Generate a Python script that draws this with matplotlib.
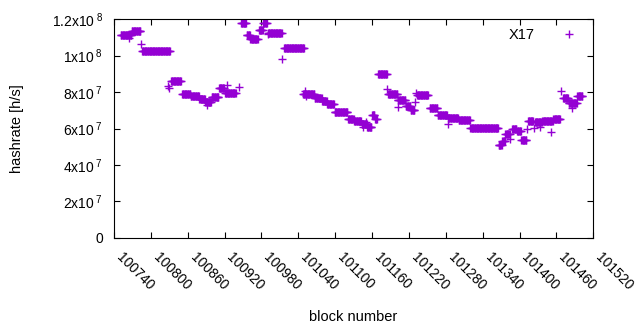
import numpy as np
import matplotlib
matplotlib.use("Agg")
import matplotlib.pyplot as plt
import matplotlib.transforms as mtransforms

plt.rcParams['font.family'] = ['Liberation Sans', 'DejaVu Sans']
plt.rcParams['font.size'] = 10

# runs of equal hashrate: first block, last block, value in 1e6 h/s
blk_from = [100751, 100764, 100769, 100784, 100786, 100828, 100830, 100833, 100851, 100865,
            100879, 100889, 100891, 100899, 100911, 100924, 100921, 100943, 100947, 100956,
            100962, 100976, 100983, 100990, 100991, 101014, 101017, 101048, 101051, 101052,
            101067, 101079, 101087, 101099, 101121, 101131, 101143, 101146, 101150, 101152,
            101160, 101165, 101170, 101184, 101186, 101202, 101202, 101215, 101223, 101230,
            101231, 101233, 101254, 101267, 101283, 101284, 101301, 101320, 101366, 101372,
            101377, 101385, 101388, 101396, 101403, 101412, 101414, 101423, 101425, 101433,
            101437, 101451, 101455, 101468, 101471, 101480, 101486, 101494]
blk_to = [100768, 100764, 100783, 100784, 100831, 100828, 100830, 100849, 100864, 100878,
          100888, 100898, 100891, 100910, 100919, 100924, 100938, 100943, 100955, 100961,
          100974, 100982, 100989, 100990, 101013, 101014, 101049, 101066, 101051, 101052,
          101078, 101086, 101098, 101120, 101130, 101142, 101151, 101146, 101150, 101159,
          101164, 101168, 101184, 101184, 101201, 101214, 101202, 101222, 101229, 101230,
          101231, 101251, 101266, 101282, 101283, 101300, 101319, 101365, 101371, 101376,
          101384, 101385, 101395, 101402, 101411, 101412, 101422, 101423, 101436, 101433,
          101454, 101451, 101466, 101468, 101479, 101493, 101486, 101502]
hashrate = [111.2, 109.6, 113.4, 106.3, 102.7, 83.5, 82.0, 86.2, 79.0, 77.8,
            76.2, 74.5, 72.9, 77.5, 82.2, 84.0, 79.5, 83.0, 117.8, 111.2,
            109.0, 113.8, 117.7, 111.8, 112.3, 98.0, 104.0, 79.0, 80.8, 77.6,
            76.5, 75.0, 73.4, 69.0, 65.5, 64.1, 62.5, 61.0, 63.6, 61.0,
            67.4, 65.5, 89.8, 81.6, 79.0, 75.4, 71.8, 72.3, 70.2, 74.5,
            79.5, 78.4, 71.0, 67.6, 62.5, 66.0, 64.9, 60.3, 51.0, 53.2,
            57.0, 54.0, 59.7, 58.9, 53.7, 59.7, 64.0, 60.3, 63.5, 60.8,
            64.4, 58.0, 65.5, 80.5, 76.7, 73.8, 71.5, 77.8]

xticks = list(range(100740, 101521, 60))
yticks = [0, 2e7, 4e7, 6e7, 8e7, 1e8, 1.2e8]
ytick_labels = ['0', r'2x10$\mathregular{\,^{7}}$', r'4x10$\mathregular{\,^{7}}$',
                r'6x10$\mathregular{\,^{7}}$', r'8x10$\mathregular{\,^{7}}$',
                r'1x10$\mathregular{\,^{8}}$', r'1.2x10$\mathregular{\,^{8}}$']

blocks = []
values = []
for a, b, v in zip(blk_from, blk_to, hashrate):
    for n in range(a, b + 1):
        blocks.append(n)
        values.append(v * 1e6)

fig = plt.figure(figsize=(6.4, 3.3), dpi=100)
ax = fig.add_axes([0.178, 0.279, 0.749, 0.663])

ax.plot(blocks, values, '+', color='#9400d3', ms=5.2, mew=1.0, label='X17')

ax.set_xlim(100740, 101520)
ax.set_ylim(0, 1.2e8)
ax.set_xticks(xticks)
ax.set_xticklabels([str(t) for t in xticks], rotation=-45, ha='left', va='top',
                   rotation_mode='anchor')
ax.set_yticks(yticks)
ax.set_yticklabels(ytick_labels)
ax.tick_params(direction='in', length=4.5, width=0.8, top=True, right=True, labelsize=10)
ax.tick_params(axis='x', pad=9)
ax.tick_params(axis='y', pad=8)
for s in ax.spines.values():
    s.set_linewidth(0.8)

# gnuplot puts the rotated labels a little right of the tick
shift = mtransforms.ScaledTranslation(7 / 72, 0, fig.dpi_scale_trans)
for lbl in ax.get_xticklabels():
    lbl.set_transform(lbl.get_transform() + shift)

ax.set_xlabel('block number', fontsize=10.5, labelpad=12)
ax.set_ylabel('hashrate [h/s]', fontsize=10.5, labelpad=20)

ax.legend(loc='upper right', frameon=False, markerfirst=False, fontsize=10.5,
          handlelength=1.5, handletextpad=1.6, borderaxespad=0.2,
          bbox_to_anchor=(0.99, 1.0))

fig.savefig('out.png', dpi=100)
